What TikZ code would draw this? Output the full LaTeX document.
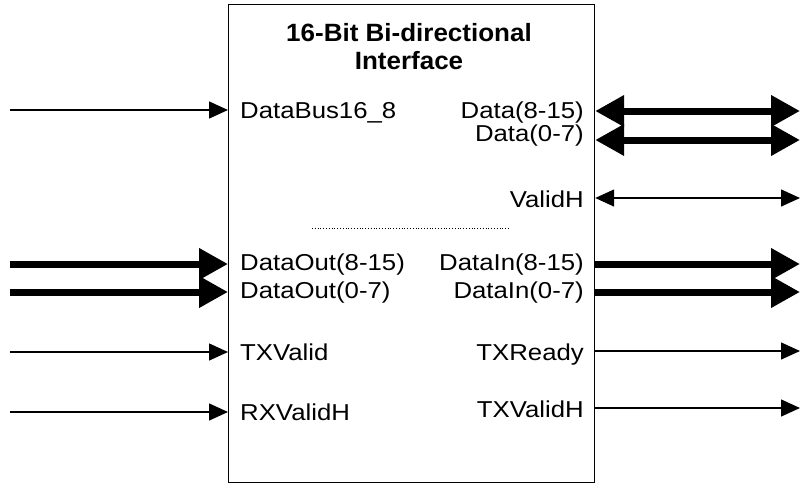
\documentclass[tikz,border=0pt]{standalone}
\usepackage{fontspec}
\setmainfont{Liberation Sans}[FakeStretch=1.12]
\newfontfamily\titlefont{Liberation Sans}[FakeStretch=1.04]
\usetikzlibrary{arrows.meta,positioning,calc}

\begin{document}
\begin{tikzpicture}[x=1pt, y=-1pt,
    sig/.style={line width=1.4pt, -{Triangle[length=19pt,width=17pt]}},
    bisig/.style={line width=1.4pt, {Triangle[length=19pt,width=17pt]}-{Triangle[length=19pt,width=17pt]}},
    bus/.style={line width=7pt, -{Triangle[length=29pt,width=30pt]}},
    bibus/.style={line width=7pt, {Triangle[length=29pt,width=30pt]}-{Triangle[length=29pt,width=30pt]}},
    lbl/.style={font=\fontsize{23}{26}\selectfont, inner sep=0pt},
    inlbl/.style={lbl, anchor=base west},
    outlbl/.style={lbl, anchor=base east}
]
\useasboundingbox (0,0) rectangle (801,485);

% Block
\node[draw, line width=1.2pt, minimum width=366pt, minimum height=478pt, anchor=north west, inner sep=0pt] (iface) at (228,4) {};
\node[font=\titlefont\bfseries\fontsize{25}{28}\selectfont, align=center, inner sep=0pt, anchor=north] (title) at (409,23) {16-Bit Bi-directional\\Interface};
\draw[dotted, line width=0.8pt] (312,228) -- (510,228);

% Inputs
\node[inlbl] (dbus) at (240,118) {DataBus16\_8};
\node[inlbl] (dout8) at (240,270) {DataOut(8-15)};
\node[inlbl] (dout0) at (240,298) {DataOut(0-7)};
\node[inlbl] (txv) at (240,360) {TXValid};
\node[inlbl] (rxvh) at (240,420) {RXValidH};

\coordinate (dbusIn) at (10,110);
\coordinate (dout8In) at (10,264);
\coordinate (dout0In) at (10,292);
\coordinate (txvIn) at (10,352);
\coordinate (rxvhIn) at (10,412);

\draw[sig] (dbusIn) -- (dbusIn -| iface.west);
\draw[bus] (dout8In) -- (dout8In -| iface.west);
\draw[bus] (dout0In) -- (dout0In -| iface.west);
\draw[sig] (txvIn) -- (txvIn -| iface.west);
\draw[sig] (rxvhIn) -- (rxvhIn -| iface.west);

% Outputs
\node[outlbl] (data8) at (584,118) {Data(8-15)};
\node[outlbl] (data0) at (584,141) {Data(0-7)};
\node[outlbl] (validh) at (584,207) {ValidH};
\node[outlbl] (din8) at (584,270) {DataIn(8-15)};
\node[outlbl] (din0) at (584,298) {DataIn(0-7)};
\node[outlbl] (txr) at (584,360) {TXReady};
\node[outlbl] (txvh) at (584,417) {TXValidH};

\coordinate (data8Out) at (800,111);
\coordinate (data0Out) at (800,140);
\coordinate (validhOut) at (800,198);
\coordinate (din8Out) at (800,264);
\coordinate (din0Out) at (800,292);
\coordinate (txrOut) at (800,351);
\coordinate (txvhOut) at (800,408);

\draw[bibus] (data8Out -| iface.east) -- (data8Out);
\draw[bibus] (data0Out -| iface.east) -- (data0Out);
\draw[bisig] (validhOut -| iface.east) -- (validhOut);
\draw[bus] (din8Out -| iface.east) -- (din8Out);
\draw[bus] (din0Out -| iface.east) -- (din0Out);
\draw[sig] (txrOut -| iface.east) -- (txrOut);
\draw[sig] (txvhOut -| iface.east) -- (txvhOut);
\end{tikzpicture}
\end{document}
